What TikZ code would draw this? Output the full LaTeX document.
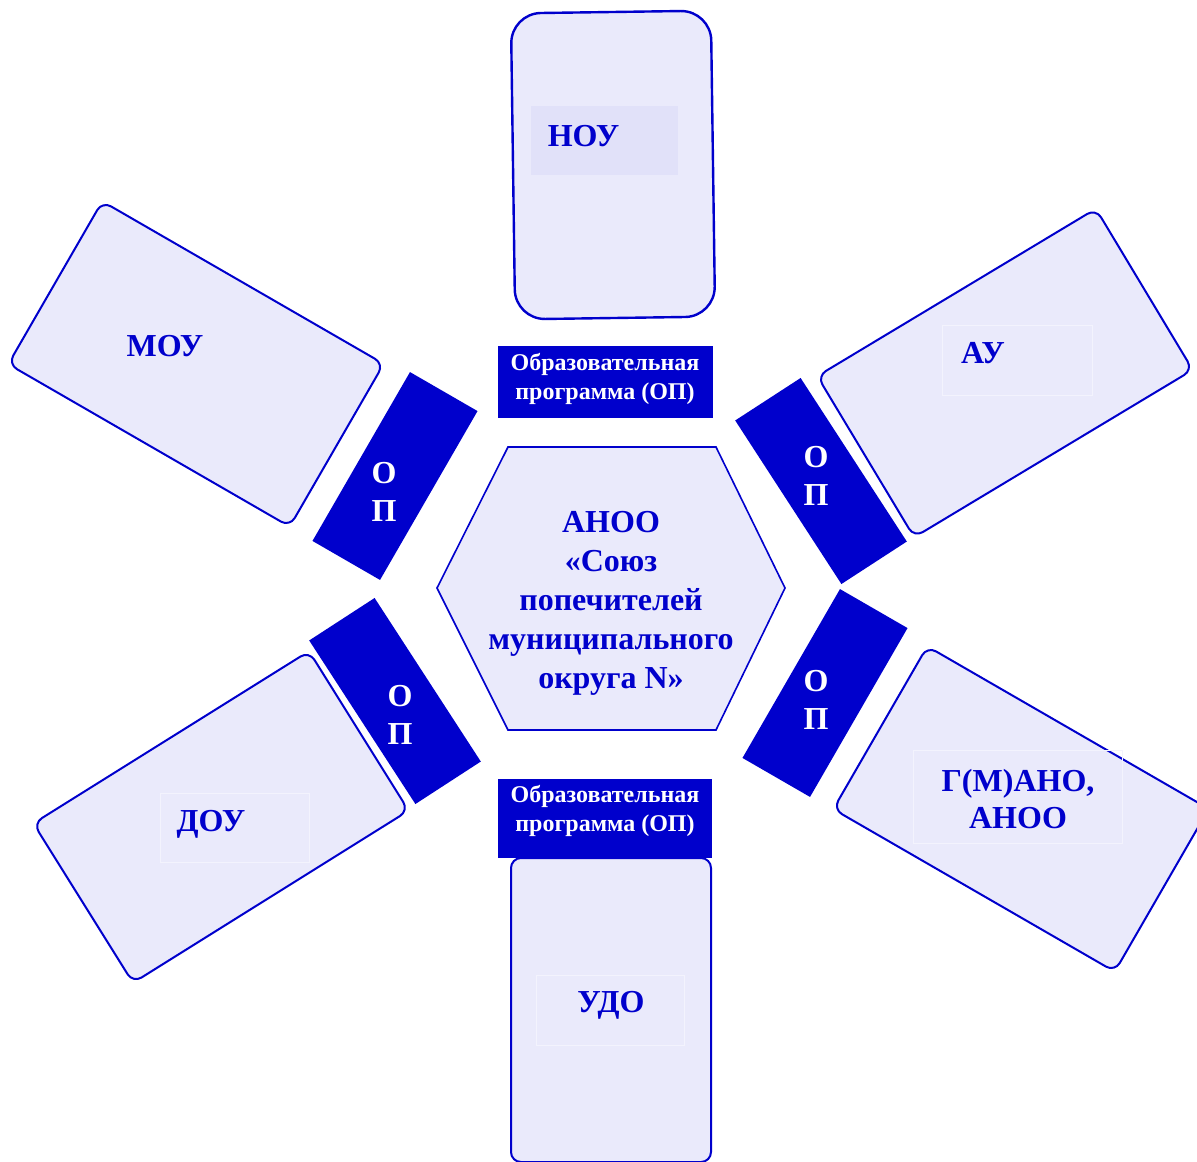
\documentclass[tikz,border=0pt]{standalone}
\usepackage{fontspec}
\setmainfont{Liberation Serif}
\definecolor{opblue}{RGB}{0,0,204}
\definecolor{boxfill}{RGB}{234,234,251}
\definecolor{tagfill}{RGB}{225,225,249}

\begin{document}
\begin{tikzpicture}[x=0.5pt,y=-0.5pt,
  unit/.style={draw=opblue, line width=1pt, fill=boxfill, rounded corners=5pt,
    minimum width=162.5pt, minimum height=94pt, inner sep=0pt},
  school/.style={unit, minimum width=100pt, minimum height=153pt},
  slab/.style={fill=opblue, minimum width=39pt, minimum height=97.5pt, inner sep=0pt},
  slabtext/.style={text=white, font=\bfseries\fontsize{16}{19}\selectfont, align=center},
  bar/.style={fill=opblue, inner sep=0pt},
  bartext/.style={text=white, font=\bfseries\fontsize{12}{14.5}\selectfont, align=center},
  orgname/.style={text=opblue, font=\bfseries\fontsize{16}{18.5}\selectfont, align=center},
  tag/.style={draw=white!45!boxfill, line width=0.5pt, inner sep=0pt}]
  \useasboundingbox (0,0) rectangle (1197,1161);

  % organisations round the centre
  \node[school, rounded corners=15pt, line width=1.2pt, rotate=0.8] (nou) at (613,165) {};
  \node[tag, draw=none, fill=tagfill, minimum width=73.5pt, minimum height=34.5pt] (nouTag) at (604.5,140.5) {};
  \node[orgname] (nouName) at (583.5,136) {НОУ};

  \node[unit, rotate=-30] (mou) at (196,364) {};
  \node[orgname] (mouName) at (165,346) {МОУ};

  \node[unit, rotate=31] (au) at (1005,373) {};
  \node[tag, minimum width=75pt, minimum height=35pt] (auTag) at (1017,360) {};
  \node[orgname] (auName) at (983,353) {АУ};

  \node[unit, rotate=32] (dou) at (221,817) {};
  \node[tag, minimum width=74.5pt, minimum height=34.5pt] (douTag) at (234.5,827.5) {};
  \node[orgname] (douName) at (211,824) {ДОУ};

  \node[unit, rotate=-30] (gano) at (1021,809) {};
  \node[tag, minimum width=104.5pt, minimum height=46.5pt] (ganoTag) at (1017.5,796.5) {};
  \node[orgname] (ganoName) at (1018,799) {Г(М)АНО,\\АНОО};

  \node[school, minimum height=152pt] (udo) at (611,1010) {};
  \node[tag, minimum width=74pt, minimum height=35pt] (udoTag) at (610,1010) {};
  \node[orgname] (udoName) at (611,1005) {УДО};

  % OP slabs
  \node[slab, rotate=-30] (opMou) at (395,476) {};
  \node[slabtext] (opMouText) at (384,492) {О\\П};
  \node[slab, rotate=33] (opAu) at (821,481) {};
  \node[slabtext] (opAuText) at (816,476) {О\\П};
  \node[slab, rotate=33] (opDou) at (395,701) {};
  \node[slabtext] (opDouText) at (400,715) {О\\П};
  \node[slab, rotate=-30] (opGano) at (825,693) {};
  \node[slabtext] (opGanoText) at (816,700) {О\\П};

  % programme bars
  \node[bar, minimum width=107.5pt, minimum height=36pt] (barTop) at (605.5,382) {};
  \node[bartext] (barTopText) at (605,379) {Образовательная\\программа (ОП)};
  \node[bar, minimum width=107pt, minimum height=39.5pt] (barBot) at (605,818.5) {};
  \node[bartext] (barBotText) at (605,811) {Образовательная\\программа (ОП)};

  % centre
  \draw[draw=opblue, line width=0.8pt, fill=boxfill]
    (508,447) -- (716,447) -- (785,588) -- (716,730) -- (508,730) -- (437,588) -- cycle;
  \node[orgname, font=\bfseries\fontsize{16}{19.5}\selectfont] (anoo) at (611,603)
    {АНОО\\«Союз\\попечителей\\муниципального\\округа N»};
\end{tikzpicture}
\end{document}
